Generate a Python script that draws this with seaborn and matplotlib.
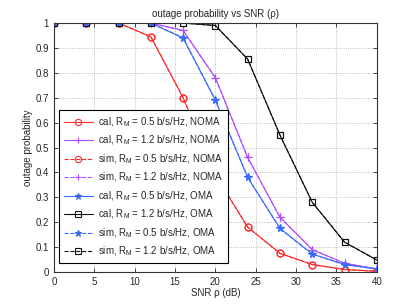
import numpy as np
import pandas as pd
import matplotlib
matplotlib.use("Agg")
import matplotlib.pyplot as plt
import seaborn as sns

sns.set_style("ticks")
plt.rcParams['font.family'] = ['Liberation Sans', 'DejaVu Sans']
plt.rcParams['mathtext.fontset'] = 'custom'
plt.rcParams['mathtext.rm'] = 'Liberation Sans'
plt.rcParams['mathtext.it'] = 'Liberation Sans'

snr = [0, 4, 8, 12, 16, 20, 24, 28, 32, 36, 40]
noma_05 = [1, 1, 1, 0.945, 0.70, 0.39, 0.18, 0.075, 0.03, 0.01, 0.003]
noma_12 = [1, 1, 1, 1, 0.97, 0.78, 0.46, 0.22, 0.09, 0.035, 0.012]
oma_05 = [1, 1, 1, 1, 0.94, 0.69, 0.38, 0.175, 0.072, 0.03, 0.012]
oma_12 = [1, 1, 1, 1, 1, 0.99, 0.855, 0.55, 0.28, 0.12, 0.048]

labels = [
    r"cal, R$_\mathrm{M}$ = 0.5 b/s/Hz, NOMA",
    r"cal, R$_\mathrm{M}$ = 1.2 b/s/Hz, NOMA",
    r"sim, R$_\mathrm{M}$ = 0.5 b/s/Hz, NOMA",
    r"sim, R$_\mathrm{M}$ = 1.2 b/s/Hz, NOMA",
    r"cal, R$_\mathrm{M}$ = 0.5 b/s/Hz, OMA",
    r"cal, R$_\mathrm{M}$ = 1.2 b/s/Hz, OMA",
    r"sim, R$_\mathrm{M}$ = 0.5 b/s/Hz, OMA",
    r"sim, R$_\mathrm{M}$ = 1.2 b/s/Hz, OMA",
]

red = "#ff2a2a"
mag = "#b04cff"
blue = "#3a6bff"
black = "#111111"

series = [
    (noma_05, red, 'o', '-', 'none'),
    (noma_12, mag, '+', '-', mag),
    (noma_05, red, 'o', '--', 'none'),
    (noma_12, mag, '+', '--', mag),
    (oma_05, blue, '*', '-', blue),
    (oma_12, black, 's', '-', 'none'),
    (oma_05, blue, '*', '--', blue),
    (oma_12, black, 's', '--', 'none'),
]

fig = plt.figure(figsize=(4.15, 3.07), dpi=100)
ax = fig.add_axes([0.130, 0.114, 0.778, 0.811])

for (vals, c, m, ls, fc), lab in zip(series, labels):
    df = pd.DataFrame({"snr": snr, "p": vals})
    ms = 5 if m in ('o', 's') else 5.5
    sns.lineplot(data=df, x="snr", y="p", ax=ax, color=c, marker=m, linestyle=ls,
                 markerfacecolor=fc, markeredgecolor=c, markersize=ms,
                 linewidth=0.8, label=lab, markeredgewidth=0.8)

ax.set_xlim(0, 40)
ax.set_ylim(0, 1)
ax.set_xticks(range(0, 41, 5))
ax.set_yticks(np.arange(0, 1.01, 0.1))
ax.set_yticklabels(["0", "0.1", "0.2", "0.3", "0.4", "0.5", "0.6", "0.7", "0.8", "0.9", "1"])
ax.tick_params(direction='in', labelsize=7, length=3, width=0.6, top=True, right=True)
ax.grid(True, linestyle=':', color='#aaaaaa', linewidth=0.6)
for s in ax.spines.values():
    s.set_linewidth(0.8)
    s.set_color('#333333')
ax.set_xlabel("SNR ρ (dB)", fontsize=7, labelpad=1)
ax.set_ylabel("outage probability", fontsize=7, labelpad=2)
ax.set_title("outage probability vs SNR (ρ)", fontsize=7, pad=4)

leg = ax.legend(loc='lower left', fontsize=7, frameon=True, fancybox=False,
                edgecolor='black', framealpha=1, borderaxespad=0.0,
                labelspacing=0.5, handlelength=3.0, handletextpad=0.5,
                borderpad=0.5, markerscale=0.9,
                bbox_to_anchor=(0.015, 0.036))
leg.get_frame().set_linewidth(0.8)

fig.savefig("out.png", dpi=100)
